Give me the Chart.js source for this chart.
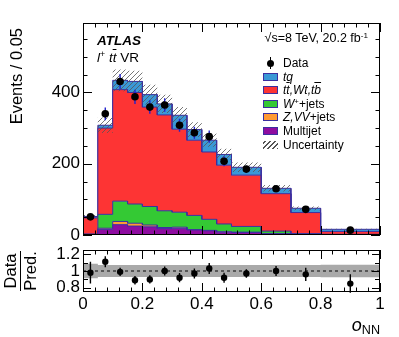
<!DOCTYPE html>
<html>
<head>
<meta charset="utf-8">
<script src="https://cdn.jsdelivr.net/npm/chart.js@4.4.1/dist/chart.umd.min.js"></script>
<style>
  body { margin: 0; background: #fff; font-family: "Liberation Sans", Arial, Helvetica, sans-serif; }
  #wrap { position: relative; width: 399px; height: 337px; overflow: hidden; }
  canvas { position: absolute; left: 0; }
  .t { position: absolute; white-space: nowrap; color: #000; line-height: 1; }
  .ob { text-decoration: overline; }
  .leg { position: absolute; left: 263px; width: 15px; height: 8px; border: 1px solid #3b2fa0; box-sizing: border-box; }
  .legt { position: absolute; left: 283px; font-size: 12px; line-height: 1; white-space: nowrap; }
  sup { font-size: 0.65em; vertical-align: 0.55em; line-height: 0; }
  sub { font-size: 0.7em; vertical-align: -0.25em; line-height: 0; }
</style>
</head>
<body>
<div id="wrap">
  <canvas id="mainChart" width="399" height="250" style="top:0"></canvas>
  <canvas id="ratioChart" width="399" height="102" style="top:235px"></canvas>

  <div class="t" style="left:97px;top:34px;font-size:13.5px;font-weight:bold;font-style:italic;">ATLAS</div>
  <div class="t" style="left:97px;top:51px;font-size:13.5px;"><i>l</i><sup>+</sup> <i>t<span class="ob">t</span></i> VR</div>
  <div class="t" style="right:31px;top:32px;font-size:12.5px;">&radic;s=8 TeV, 20.2 fb<sup>-1</sup></div>

  <div id="legend"></div>

  <div class="t" style="left:8px;top:28px;font-size:16.5px;writing-mode:vertical-rl;transform:rotate(180deg);">Events / 0.05</div>
  <div class="t" style="left:-12px;top:253px;width:64px;height:36px;font-size:16.5px;text-align:center;transform:rotate(-90deg);">
    <div style="display:inline-block;">
      <div style="padding-bottom:1px;">Data</div>
      <div style="border-top:1.5px solid #000;padding-top:1px;">Pred.</div>
    </div>
  </div>
  <div class="t" style="right:19px;top:316px;font-size:18px;"><i>o</i><sub>NN</sub></div>
</div>

<script>
// bin edges of the o_NN histogram (variable width)
const binEdges = [0, 0.05, 0.1, 0.15, 0.2, 0.25, 0.3, 0.35, 0.4, 0.45, 0.5, 0.6, 0.7, 0.8, 1.0];

// stacked backgrounds, events / 0.05 (bottom to top)
const multijet = [1, 16, 29, 25, 23, 18, 19, 14, 12, 8, 7, 3, 1, 1];
const zvvJets  = [0.5, 3, 9, 8, 5, 3, 3, 1, 1, 1, 1, 1, 0.5, 0.2];
const wJets    = [1.5, 39, 57, 54, 52, 47, 42, 40, 31, 22, 16, 7, 2.5, 0.8];
const ttbar    = [45, 242, 313, 313, 279, 269, 233, 211, 189, 165, 144, 105, 59, 8];
const tq       = [4, 8, 26, 31, 35, 31, 39, 30, 33, 30, 22, 15, 12, 6];

// relative uncertainty of the prediction per bin
const uncFrac = [0.085, 0.07, 0.07, 0.07, 0.07, 0.07, 0.07, 0.07, 0.07, 0.07, 0.07, 0.07, 0.07, 0.075];

// data
const dataX   = [0.025, 0.075, 0.125, 0.175, 0.225, 0.275, 0.325, 0.375, 0.425, 0.475, 0.55, 0.65, 0.75, 0.9];
const dataY   = [51, 340, 431, 388, 359, 365, 308, 287, 276, 207, 185, 130, 72, 13.6];
const dataErr = [7, 18, 21, 20, 19, 19, 18, 17, 17, 14, 9.6, 8, 6, 1.8];

// data / prediction
const ratioY   = [0.98, 1.11, 0.99, 0.89, 0.90, 1.0, 0.92, 0.97, 1.03, 0.92, 0.97, 1.0, 0.96, 0.85];
const ratioErr = [0.13, 0.065, 0.05, 0.05, 0.05, 0.055, 0.055, 0.06, 0.065, 0.06, 0.05, 0.06, 0.08, 0.11];

// tick labels
const mainYLabels  = [0, 200, 400];
const ratioYLabels = [0.8, 1, 1.2];
const xLabels      = [0, 0.2, 0.4, 0.6, 0.8, 1];

const FONT = '"Liberation Sans", Arial, Helvetica, sans-serif';
const EDGE = '#3b2fa0';

const colors = {
  multijet: '#8e0ca0',
  zvv: '#ff9a33',
  wjets: '#34c934',
  ttbar: '#fd3434',
  tq: '#3a98d6'
};

// step outline points of a histogram
function stepPoints(vals) {
  const pts = [];
  vals.forEach((v, i) => {
    pts.push({ x: binEdges[i], y: v });
    pts.push({ x: binEdges[i + 1], y: v });
  });
  return pts;
}

function makeHatch() {
  const c = document.createElement('canvas');
  c.width = 5; c.height = 5;
  const g = c.getContext('2d');
  g.strokeStyle = '#555';
  g.lineWidth = 0.8;
  g.beginPath();
  g.moveTo(0, 5); g.lineTo(5, 0);
  g.moveTo(-1, 1); g.lineTo(1, -1);
  g.moveTo(4, 6); g.lineTo(6, 4);
  g.stroke();
  return g.createPattern(c, 'repeat');
}

// cumulative stack
const components = [multijet, zvvJets, wJets, ttbar, tq];
let run = binEdges.slice(1).map(() => 0);
const cum = components.map(c => (run = run.map((r, i) => r + c[i])));
const total = cum[cum.length - 1];
const uncLow = total.map((t, i) => t * (1 - uncFrac[i]));
const uncHigh = total.map((t, i) => t * (1 + uncFrac[i]));

// inward ticks + frame, ROOT style
const frameTicks = {
  id: 'frameTicks',
  afterDraw(chart, args, o) {
    const { ctx, chartArea: a } = chart;
    const xs = chart.scales.x, ys = chart.scales.y;
    ctx.save();
    ctx.strokeStyle = '#000';
    ctx.lineWidth = 1;
    ctx.strokeRect(a.left + 0.5, a.top + 0.5, a.right - a.left - 1, a.bottom - a.top - 1);
    ctx.beginPath();
    for (let k = 0; k <= o.xN; k++) {
      const v = xs.min + k * o.xStep;
      const len = (k % o.xEvery === 0) ? o.xMajor : o.xMinor;
      const px = Math.round(xs.getPixelForValue(v)) + 0.5;
      ctx.moveTo(px, a.bottom); ctx.lineTo(px, a.bottom - len);
      ctx.moveTo(px, a.top); ctx.lineTo(px, a.top + len);
    }
    for (let k = 0; ; k++) {
      const v = o.yStart + k * o.yStep;
      if (v > ys.max + 1e-9) break;
      if (v < ys.min - 1e-9) continue;
      const len = (k % o.yEvery === 0) ? o.yMajor : o.yMinor;
      const py = Math.round(ys.getPixelForValue(v)) + 0.5;
      ctx.moveTo(a.left, py); ctx.lineTo(a.left + len, py);
      ctx.moveTo(a.right, py); ctx.lineTo(a.right - len, py);
    }
    ctx.stroke();
    ctx.restore();
  }
};

// vertical error bars under the markers
const errorBars = {
  id: 'errorBars',
  beforeDatasetDraw(chart, args) {
    const ds = chart.data.datasets[args.index];
    if (!ds.errY) return;
    const { ctx } = chart;
    const xs = chart.scales.x, ys = chart.scales.y;
    ctx.save();
    ctx.strokeStyle = ds.errColor;
    ctx.lineWidth = 1.4;
    ctx.beginPath();
    ds.data.forEach((p, i) => {
      const px = xs.getPixelForValue(p.x);
      ctx.moveTo(px, ys.getPixelForValue(p.y - ds.errY[i]));
      ctx.lineTo(px, ys.getPixelForValue(p.y + ds.errY[i]));
    });
    ctx.stroke();
    ctx.restore();
  }
};

function histDataset(label, vals, color, fill) {
  return {
    label, data: stepPoints(vals), fill,
    backgroundColor: color, borderColor: EDGE, borderWidth: 1,
    pointRadius: 0, tension: 0, order: 2
  };
}

const mainDatasets = [
  histDataset('Multijet', cum[0], colors.multijet, 'origin'),
  histDataset('Z,VV+jets', cum[1], colors.zvv, '-1'),
  histDataset('W+jets', cum[2], colors.wjets, '-1'),
  histDataset('tt,Wt,tb', cum[3], colors.ttbar, '-1'),
  histDataset('tq', cum[4], colors.tq, '-1'),
  { label: 'uncLow', data: stepPoints(uncLow), fill: false, borderWidth: 0, pointRadius: 0, order: 1 },
  { label: 'Uncertainty', data: stepPoints(uncHigh), fill: '-1', backgroundColor: makeHatch(),
    borderWidth: 0, pointRadius: 0, order: 1 },
  { label: 'Data', data: dataX.map((x, i) => ({ x, y: dataY[i] })), showLine: false,
    pointRadius: 3.8, pointBackgroundColor: '#000', pointBorderColor: '#000', pointBorderWidth: 0,
    errY: dataErr, errColor: '#2222cc', order: 0 }
];

new Chart(document.getElementById('mainChart'), {
  type: 'line',
  data: { datasets: mainDatasets },
  options: {
    responsive: false,
    animation: false,
    events: [],
    layout: { padding: { left: 0, right: 19, top: 23, bottom: 15 } },
    plugins: {
      legend: { display: false },
      tooltip: { enabled: false },
      frameTicks: { xN: 25, xStep: 0.04, xEvery: 5, xMajor: 9, xMinor: 4.5,
                    yStart: 0, yStep: 50, yEvery: 4, yMajor: 9, yMinor: 4.5 }
    },
    scales: {
      x: { type: 'linear', min: 0, max: 1, display: false },
      y: {
        min: 0, max: 595,
        grid: { display: false, drawTicks: false },
        border: { display: false },
        ticks: {
          stepSize: 50, padding: 3, color: '#000', autoSkip: false,
          font: { family: FONT, size: 17 },
          callback: v => (mainYLabels.includes(v) ? String(v) : '')
        },
        afterFit: s => { s.width = 83; }
      }
    }
  },
  plugins: [frameTicks, errorBars]
});

const ratioDatasets = [
  { label: 'bandLow', data: stepPoints(uncFrac.map(u => 1 - u)), fill: false, borderWidth: 0, pointRadius: 0, order: 3 },
  { label: 'band', data: stepPoints(uncFrac.map(u => 1 + u)), fill: '-1', backgroundColor: '#a9a9a9',
    borderWidth: 0, pointRadius: 0, order: 3 },
  { label: 'unity', data: [{ x: 0, y: 1 }, { x: 1, y: 1 }], borderColor: '#222', borderWidth: 1.2,
    borderDash: [3, 3], pointRadius: 0, fill: false, order: 2 },
  { label: 'ratio', data: dataX.map((x, i) => ({ x, y: ratioY[i] })), showLine: false,
    pointRadius: 3.2, pointBackgroundColor: '#000', pointBorderColor: '#000', pointBorderWidth: 0,
    errY: ratioErr, errColor: '#000', order: 0 }
];

new Chart(document.getElementById('ratioChart'), {
  type: 'line',
  data: { datasets: ratioDatasets },
  options: {
    responsive: false,
    animation: false,
    events: [],
    layout: { padding: { left: 0, right: 19, top: 15, bottom: 0 } },
    plugins: {
      legend: { display: false },
      tooltip: { enabled: false },
      frameTicks: { xN: 25, xStep: 0.04, xEvery: 5, xMajor: 9, xMinor: 4.5,
                    yStart: 0.8, yStep: 0.1, yEvery: 2, yMajor: 8, yMinor: 5 }
    },
    scales: {
      x: {
        type: 'linear', min: 0, max: 1,
        grid: { display: false, drawTicks: false },
        border: { display: false },
        ticks: {
          stepSize: 0.2, padding: 2, color: '#000', maxRotation: 0, autoSkip: false,
          font: { family: FONT, size: 17 },
          callback: v => {
            const l = xLabels.find(t => Math.abs(t - v) < 1e-6);
            return l === undefined ? '' : String(l);
          }
        },
        afterFit: s => { s.height = 45; }
      },
      y: {
        min: 0.75, max: 1.25,
        grid: { display: false, drawTicks: false },
        border: { display: false },
        ticks: {
          stepSize: 0.05, padding: 3, color: '#000', autoSkip: false,
          font: { family: FONT, size: 17 },
          callback: v => {
            const l = ratioYLabels.find(t => Math.abs(t - v) < 1e-6);
            return l === undefined ? '' : String(l);
          }
        },
        afterFit: s => { s.width = 83; }
      }
    }
  },
  plugins: [frameTicks, errorBars]
});

// legend, drawn as HTML next to the stack
const legendRows = [
  { text: 'Data', kind: 'data' },
  { html: '<i>tq</i>', color: colors.tq },
  { html: '<i>t<span class="ob">t</span>,Wt,t<span class="ob">b</span></i>', color: colors.ttbar },
  { html: '<i>W</i><sup>+</sup>+jets', color: colors.wjets },
  { html: '<i>Z,VV</i>+jets', color: colors.zvv },
  { html: 'Multijet', color: colors.multijet },
  { html: 'Uncertainty', kind: 'hatch' }
];
const legendTop = 63, legendStep = 13.6;
const legendEl = document.getElementById('legend');
legendRows.forEach((r, i) => {
  const cy = legendTop + i * legendStep;
  const t = document.createElement('div');
  t.className = 'legt';
  t.style.top = (cy - 6) + 'px';
  t.innerHTML = r.html || r.text;
  legendEl.appendChild(t);
  const b = document.createElement('div');
  if (r.kind === 'data') {
    b.style.cssText = `position:absolute;left:267px;top:${cy - 3.5}px;width:7px;height:7px;border-radius:50%;background:#000;`;
    const bar = document.createElement('div');
    bar.style.cssText = `position:absolute;left:270px;top:${cy - 6}px;width:1px;height:12px;background:#000;`;
    legendEl.appendChild(bar);
  } else if (r.kind === 'hatch') {
    b.style.cssText = `position:absolute;left:263px;top:${cy - 4}px;width:15px;height:8px;` +
      'background:repeating-linear-gradient(-45deg,#555 0 1px,transparent 1px 3.5px);';
  } else {
    b.className = 'leg';
    b.style.top = (cy - 4) + 'px';
    b.style.background = r.color;
  }
  legendEl.appendChild(b);
});
</script>
</body>
</html>
